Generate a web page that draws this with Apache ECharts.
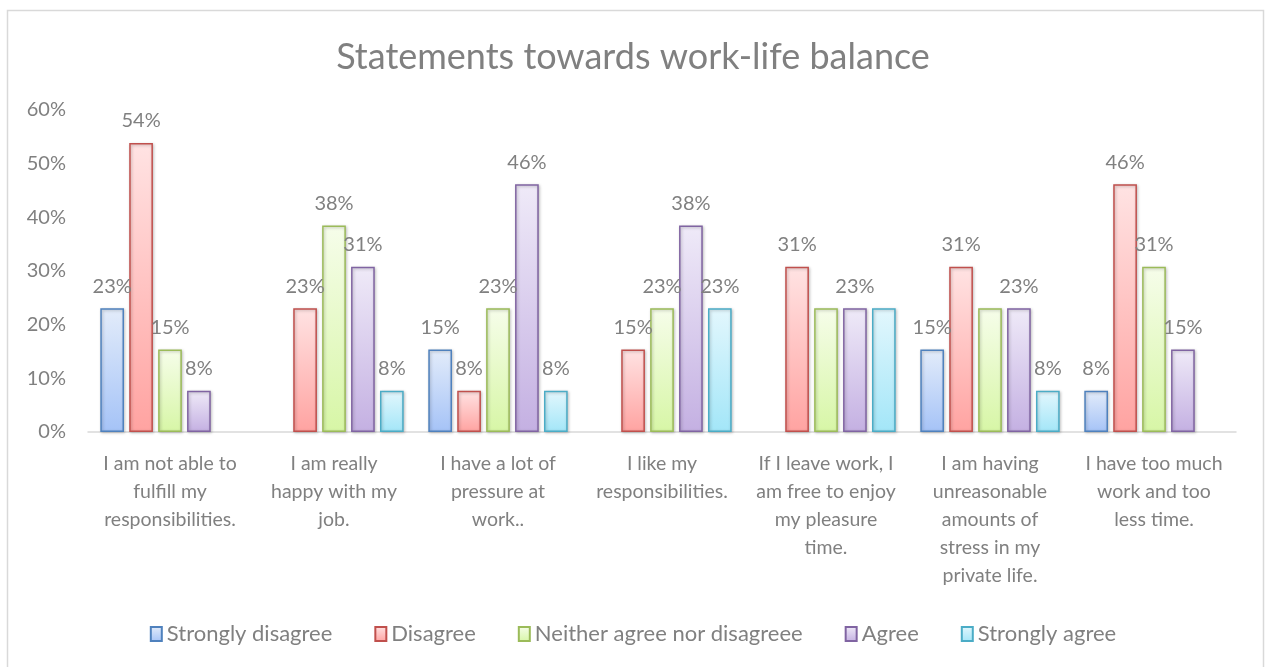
<!DOCTYPE html>
<html>
<head>
<meta charset="utf-8">
<script src="https://cdn.jsdelivr.net/npm/echarts@6/dist/echarts.min.js"></script>
<style>
html,body{margin:0;padding:0;background:#fff;}
#chart{width:1266px;height:667px;}
</style>
</head>
<body>
<div id="chart"></div>
<script>
const titleText = 'Statements towards work-life balance';
const categories = [
  'I am not able to\nfulfill my\nresponsibilities.',
  'I am really\nhappy with my\njob.',
  'I have a lot of\npressure at\nwork..',
  'I like my\nresponsibilities.',
  'If I leave work, I\nam free to enjoy\nmy pleasure\ntime.',
  'I am having\nunreasonable\namounts of\nstress in my\nprivate life.',
  'I have too much\nwork and too\nless time.'
];
const seriesNames = ['Strongly disagree', 'Disagree', 'Neither agree nor disagreee', 'Agree', 'Strongly agree'];
const stronglyDisagree = [23.08, 0, 15.38, 0, 0, 15.38, 7.69];
const disagree = [53.85, 23.08, 7.69, 15.38, 30.77, 30.77, 46.15];
const neither = [15.38, 38.46, 23.08, 23.08, 23.08, 23.08, 30.77];
const agree = [7.69, 30.77, 46.15, 38.46, 23.08, 23.08, 15.38];
const stronglyAgree = [0, 7.69, 7.69, 23.08, 23.08, 7.69, 0];
const yTicks = [0, 10, 20, 30, 40, 50, 60];
// labels not shown in the original: [seriesIndex, categoryIndex]
const hiddenLabels = [[2, 4], [4, 4], [2, 5]];

const values = [stronglyDisagree, disagree, neither, agree, stronglyAgree];
const styles = [
  {border: '#4F81BD', top: '#E3ECFA', bottom: '#A5C3F7'},
  {border: '#C0504D', top: '#FFE3E3', bottom: '#FFA3A1'},
  {border: '#9BBB59', top: '#F6FDEA', bottom: '#D7F6A6'},
  {border: '#8064A2', top: '#EFEAF8', bottom: '#C4B0E2'},
  {border: '#4BACC6', top: '#E3F7FD', bottom: '#A3E6F8'}
];
const FONT = 'Lato';
const TXT = '#808080';

const chart = echarts.init(document.getElementById('chart'));
const series = values.map((arr, si) => ({
  name: seriesNames[si],
  type: 'bar',
  barGap: '22%',
  barCategoryGap: '15%',
  itemStyle: {
    color: new echarts.graphic.LinearGradient(0, 0, 0, 1, [
      {offset: 0, color: styles[si].top},
      {offset: 1, color: styles[si].bottom}
    ]),
    borderColor: styles[si].border,
    borderWidth: 1.5,
    shadowColor: 'rgba(0,0,0,0.25)',
    shadowBlur: 3,
    shadowOffsetX: 1,
    shadowOffsetY: 1
  },
  label: {
    show: true,
    position: 'top',
    distance: 12,
    color: TXT,
    fontFamily: FONT,
    fontSize: 20,
    formatter: p => Math.round(p.value) + '%'
  },
  data: arr.map((v, ci) => {
    const hide = v === 0 || hiddenLabels.some(h => h[0] === si && h[1] === ci);
    const d = {value: v};
    if (hide) d.label = {show: false};
    if (v === 0) d.itemStyle = {borderWidth: 0, shadowBlur: 0, shadowOffsetX: 0, shadowOffsetY: 0};
    return d;
  })
}));

chart.setOption({
  animation: false,
  backgroundColor: '#fff',
  graphic: [{
    type: 'rect',
    shape: {x: 7.5, y: 10.5, width: 1256, height: 670},
    style: {fill: 'none', stroke: '#d9d9d9', lineWidth: 1.5},
    silent: true
  }],
  title: {
    text: titleText,
    left: 'center',
    top: 34,
    textStyle: {color: TXT, fontFamily: FONT, fontSize: 36, fontWeight: 'normal'}
  },
  legend: {
    bottom: 17,
    left: 'center',
    itemWidth: 11,
    itemHeight: 14,
    itemGap: 42,
    icon: 'rect',
    textStyle: {color: TXT, fontFamily: FONT, fontSize: 22},
    data: seriesNames
  },
  grid: {left: 88, right: 30, top: 110, bottom: 235},
  xAxis: {
    type: 'category',
    data: categories,
    axisLine: {lineStyle: {color: '#d9d9d9', width: 1.5}},
    axisTick: {show: false},
    axisLabel: {
      interval: 0,
      color: TXT,
      fontFamily: FONT,
      fontSize: 19.5,
      lineHeight: 28,
      margin: 18,
      align: 'center'
    }
  },
  yAxis: {
    type: 'value',
    min: 0,
    max: 60,
    interval: 10,
    splitLine: {show: false},
    axisLine: {show: false},
    axisTick: {show: false},
    axisLabel: {
      color: TXT,
      fontFamily: FONT,
      fontSize: 20,
      margin: 22,
      formatter: v => yTicks.includes(v) ? v + '%' : ''
    }
  },
  series: series
});
</script>
</body>
</html>
